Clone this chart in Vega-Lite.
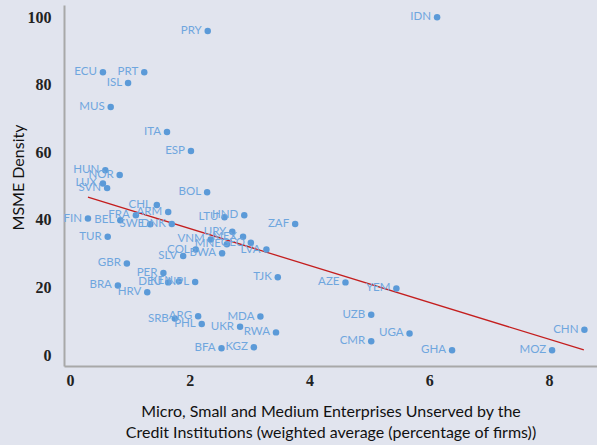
{
  "$schema": "https://vega.github.io/schema/vega-lite/v6.json",
  "width": 533,
  "height": 361,
  "autosize": "none",
  "padding": {"left": 64, "top": 5, "right": 0, "bottom": 79},
  "background": "#e1e4ee",
  "config": {"view": {"stroke": null}},
  "datasets": {
    "pts": [
      {"c": "IDN", "x": 6.13, "y": 100.0},
      {"c": "PRY", "x": 2.30, "y": 95.9},
      {"c": "ECU", "x": 0.55, "y": 83.7},
      {"c": "PRT", "x": 1.24, "y": 83.7},
      {"c": "ISL", "x": 0.97, "y": 80.5},
      {"c": "MUS", "x": 0.68, "y": 73.4},
      {"c": "ITA", "x": 1.62, "y": 66.0},
      {"c": "ESP", "x": 2.02, "y": 60.4},
      {"c": "HUN", "x": 0.59, "y": 54.7},
      {"c": "NOR", "x": 0.83, "y": 53.3},
      {"c": "LUX", "x": 0.55, "y": 50.8},
      {"c": "SVN", "x": 0.62, "y": 49.4},
      {"c": "BOL", "x": 2.29, "y": 48.2},
      {"c": "CHL", "x": 1.45, "y": 44.4},
      {"c": "ARM", "x": 1.64, "y": 42.3},
      {"c": "FIN", "x": 0.30, "y": 40.4},
      {"c": "BEL", "x": 0.84, "y": 39.9},
      {"c": "FRA", "x": 1.10, "y": 41.4},
      {"c": "SWE", "x": 1.34, "y": 38.7},
      {"c": "DNK", "x": 1.70, "y": 38.8},
      {"c": "TUR", "x": 0.63, "y": 35.0},
      {"c": "LTU", "x": 2.58, "y": 40.8},
      {"c": "HND", "x": 2.91, "y": 41.4},
      {"c": "ZAF", "x": 3.76, "y": 38.8},
      {"c": "URY", "x": 2.71, "y": 36.5},
      {"c": "MEX", "x": 2.89, "y": 35.0},
      {"c": "GEO", "x": 3.02, "y": 33.2},
      {"c": "LVA", "x": 3.28, "y": 31.2},
      {"c": "VNM", "x": 2.35, "y": 34.2},
      {"c": "MNE", "x": 2.62, "y": 32.8},
      {"c": "COL", "x": 2.10, "y": 31.2},
      {"c": "SLV", "x": 1.89, "y": 29.3},
      {"c": "BWA", "x": 2.54, "y": 30.1},
      {"c": "GBR", "x": 0.95, "y": 27.1},
      {"c": "PER", "x": 1.56, "y": 24.3},
      {"c": "DEU", "x": 1.64, "y": 21.5},
      {"c": "KEN", "x": 1.82, "y": 21.8},
      {"c": "NPL", "x": 2.09, "y": 21.6},
      {"c": "BRA", "x": 0.80, "y": 20.6},
      {"c": "HRV", "x": 1.29, "y": 18.6},
      {"c": "TJK", "x": 3.47, "y": 23.0},
      {"c": "AZE", "x": 4.60, "y": 21.5},
      {"c": "YEM", "x": 5.45, "y": 19.7},
      {"c": "UZB", "x": 5.03, "y": 11.9},
      {"c": "UGA", "x": 5.67, "y": 6.4},
      {"c": "CMR", "x": 5.03, "y": 4.1},
      {"c": "GHA", "x": 6.38, "y": 1.4},
      {"c": "MOZ", "x": 8.05, "y": 1.4},
      {"c": "CHN", "x": 8.59, "y": 7.5},
      {"c": "SRB", "x": 1.75, "y": 10.8},
      {"c": "ARG", "x": 2.14, "y": 11.5},
      {"c": "PHL", "x": 2.20, "y": 9.2},
      {"c": "UKR", "x": 2.84, "y": 8.4},
      {"c": "MDA", "x": 3.18, "y": 11.4},
      {"c": "RWA", "x": 3.44, "y": 6.7},
      {"c": "BFA", "x": 2.53, "y": 2.0},
      {"c": "KGZ", "x": 3.07, "y": 2.3}
    ],
    "fit": [
      {"x": 0.30, "y": 46.7},
      {"x": 8.58, "y": 1.5}
    ]
  },
  "encoding": {
    "x": {
      "field": "x", "type": "quantitative",
      "scale": {"domain": [-0.1, 8.8], "nice": false, "zero": false},
      "axis": {
        "values": [0, 2, 4, 6, 8], "grid": false, "ticks": false,
        "domainColor": "#a8a8a8", "domainWidth": 2,
        "labelFont": "Liberation Serif", "labelFontWeight": "bold", "labelFontSize": 16,
        "labelColor": "#222222", "labelPadding": 6,
        "title": ["Micro, Small and Medium Enterprises Unserved by the", "Credit Institutions (weighted average (percentage of firms))"],
        "titleFont": "Lato", "titleFontSize": 16, "titleFontWeight": "normal",
        "titleColor": "#111111", "titlePadding": 15, "titleLineHeight": 21
      }
    },
    "y": {
      "field": "y", "type": "quantitative",
      "scale": {"domain": [-3.25, 103.6], "nice": false, "zero": false},
      "axis": {
        "values": [0, 20, 40, 60, 80, 100], "grid": false, "ticks": false,
        "domainColor": "#a8a8a8", "domainWidth": 2,
        "labelFont": "Liberation Serif", "labelFontWeight": "bold", "labelFontSize": 16,
        "labelColor": "#222222", "labelPadding": 13,
        "title": "MSME Density",
        "titleFont": "Lato", "titleFontSize": 16, "titleFontWeight": "normal",
        "titleColor": "#111111",
        "titleX": -46, "titleY": 172, "titleAngle": -90, "titleAlign": "center", "titleBaseline": "middle"
      }
    }
  },
  "layer": [
    {
      "data": {"name": "fit"},
      "mark": {"type": "line", "color": "#c41e1e", "strokeWidth": 1.3},
      "encoding": {}
    },
    {
      "data": {"name": "pts"},
      "mark": {"type": "circle", "color": "#5b9ad8", "opacity": 1, "size": 42}
    },
    {
      "data": {"name": "pts"},
      "mark": {"type": "text", "align": "right", "baseline": "middle", "dx": -6, "color": "#6fa6de", "font": "Lato", "fontSize": 11.5},
      "encoding": {"text": {"field": "c"}}
    }
  ]
}
